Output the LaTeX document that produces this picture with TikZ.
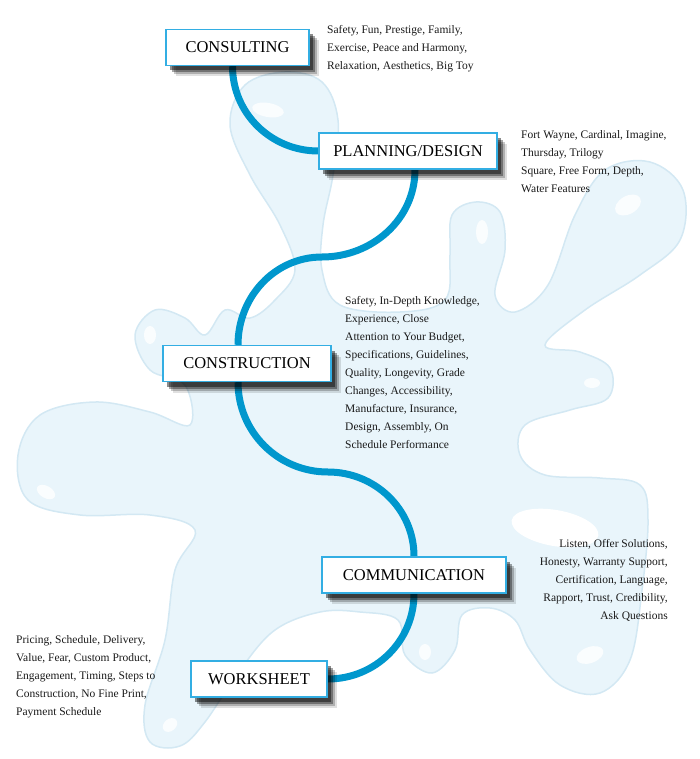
\documentclass[tikz,border=0pt]{standalone}
\usepackage{fontspec}
\setmainfont{Liberation Serif}
\usepackage{tikz}
\usetikzlibrary{backgrounds, shadows}
\definecolor{splashfill}{HTML}{E9F5FB}
\definecolor{splashrim}{HTML}{D3E8F3}
\definecolor{boxblue}{HTML}{33AEE3}
\definecolor{pathblue}{HTML}{0097CD}
\tikzset{
  stagebox/.style={draw=boxblue, line width=1.4pt, fill=white, minimum height=36pt,
    inner xsep=0pt, font=\fontsize{16.5}{18}\selectfont,
    drop shadow={shadow xshift=10pt, shadow yshift=-11pt, fill=black, opacity=.12},
    drop shadow={shadow xshift=8pt, shadow yshift=-9pt, fill=black, opacity=.22},
    drop shadow={shadow xshift=6pt, shadow yshift=-7pt, fill=black, opacity=.35},
    drop shadow={shadow xshift=4pt, shadow yshift=-5pt, fill=black, opacity=.45}},
  notes/.style={inner sep=0pt, font=\fontsize{11.5}{18}\selectfont, text=black!90},
  flow/.style={line width=7pt, pathblue},
  shine/.style={fill=white, opacity=.8}
}

\begin{document}
\begin{tikzpicture}[x=1pt,y=1pt]
	\useasboundingbox (0,0) rectangle (700,-759);
	% splash
	\begin{scope}[on background layer]
		\filldraw[fill=splashfill, draw=splashrim, line width=1.5pt] plot[smooth cycle, tension=.6] coordinates {
			(285,-72) (322,-82) (338,-120) (333,-175) (323,-225) (322,-270) (340,-305)
			(400,-312) (445,-300) (450,-255) (452,-215) (476,-202) (500,-212) (505,-250)
			(495,-295) (515,-312) (548,-285) (575,-215) (605,-170) (650,-162) (683,-190)
			(680,-240) (640,-275) (585,-310) (545,-345) (580,-352) (610,-368) (608,-398)
			(570,-410) (525,-425) (520,-455) (545,-475) (600,-478) (640,-485) (648,-520)
			(642,-590) (630,-660) (600,-693) (560,-685) (530,-650) (515,-620) (490,-608)
			(462,-615) (455,-650) (432,-673) (405,-655) (398,-620) (360,-612) (320,-612)
			(275,-630) (240,-670) (205,-722) (180,-746) (150,-742) (145,-705) (165,-640)
			(175,-570) (195,-530) (150,-515) (80,-515) (28,-500) (18,-455) (40,-415)
			(95,-402) (150,-412) (190,-425) (185,-385) (150,-370) (135,-335) (155,-310)
			(185,-318) (205,-335) (225,-310) (250,-318) (275,-300) (295,-270) (280,-225)
			(250,-175) (230,-125) (245,-85)};
		\fill[shine] (268,-110) ellipse [x radius=16, y radius=7, rotate=-10];
		\fill[shine] (482,-232) ellipse [x radius=6, y radius=12];
		\fill[shine] (628,-205) ellipse [x radius=14, y radius=9, rotate=30];
		\fill[shine] (592,-383) ellipse [x radius=8, y radius=5];
		\fill[shine] (46,-492) ellipse [x radius=10, y radius=6, rotate=-30];
		\fill[shine] (150,-335) ellipse [x radius=6, y radius=9];
		\fill[white] (555,-528) ellipse [x radius=44, y radius=18, rotate=-10];
		\fill[shine] (425,-652) ellipse [x radius=6, y radius=8];
		\fill[shine] (590,-655) ellipse [x radius=14, y radius=8, rotate=20];
		\fill[shine] (170,-725) ellipse [x radius=8, y radius=6, rotate=40];
	\end{scope}

	\node[stagebox, minimum width=143pt] (consulting) at (237.5,-47.5) {CONSULTING};
	\node[stagebox, minimum width=178pt] (planning) at (408,-151) {PLANNING/DESIGN};
	\node[stagebox, minimum width=168pt] (construction) at (247,-363.5) {CONSTRUCTION};
	\node[stagebox, minimum width=184pt] (communication) at (414,-575) {COMMUNICATION};
	\node[stagebox, minimum width=136pt] (worksheet) at (259,-679) {WORKSHEET};

	\node[notes, anchor=north west, align=left] (consultnotes) at (327,-25)
		{Safety, Fun, Prestige, Family,\\Exercise, Peace and Harmony,\\Relaxation, Aesthetics, Big Toy};
	\node[notes, anchor=north west, align=left] (planningnotes) at (521,-130)
		{Fort Wayne, Cardinal, Imagine,\\Thursday, Trilogy\\Square, Free Form, Depth,\\Water Features};
	\node[notes, anchor=north west, align=left] (constructionnotes) at (345,-296)
		{Safety, In-Depth Knowledge,\\Experience, Close\\Attention to Your Budget,\\Specifications, Guidelines,\\Quality, Longevity, Grade\\Changes, Accessibility,\\Manufacture, Insurance,\\Design, Assembly, On\\Schedule Performance};
	\node[notes, anchor=north east, align=right] (communicationnotes) at (668,-539)
		{Listen, Offer Solutions,\\Honesty, Warranty Support,\\Certification, Language,\\Rapport, Trust, Credibility,\\Ask Questions};
	\node[notes, anchor=north west, align=left] (worksheetnotes) at (16,-635)
		{Pricing, Schedule, Delivery,\\Value, Fear, Custom Product,\\Engagement, Timing, Steps to\\Construction, No Fine Print,\\Payment Schedule};

	\coordinate (bend1) at (322,-257);
	\coordinate (bend2) at (328,-472);
	\begin{scope}[on background layer]
		\draw[flow] ([xshift=-5pt]consulting.south) to[out=-90,in=180] (planning.west);
		\draw[flow] ([xshift=7pt]planning.south) to[out=-90,in=0] (bend1)
			to[out=180,in=90] ([xshift=-9pt]construction.north);
		\draw[flow] ([xshift=-9pt]construction.south) to[out=-90,in=180] (bend2)
			to[out=0,in=90] (communication.north);
		\draw[flow] (communication.south) to[out=-90,in=0] (worksheet.east);
	\end{scope}
\end{tikzpicture}
\end{document}
